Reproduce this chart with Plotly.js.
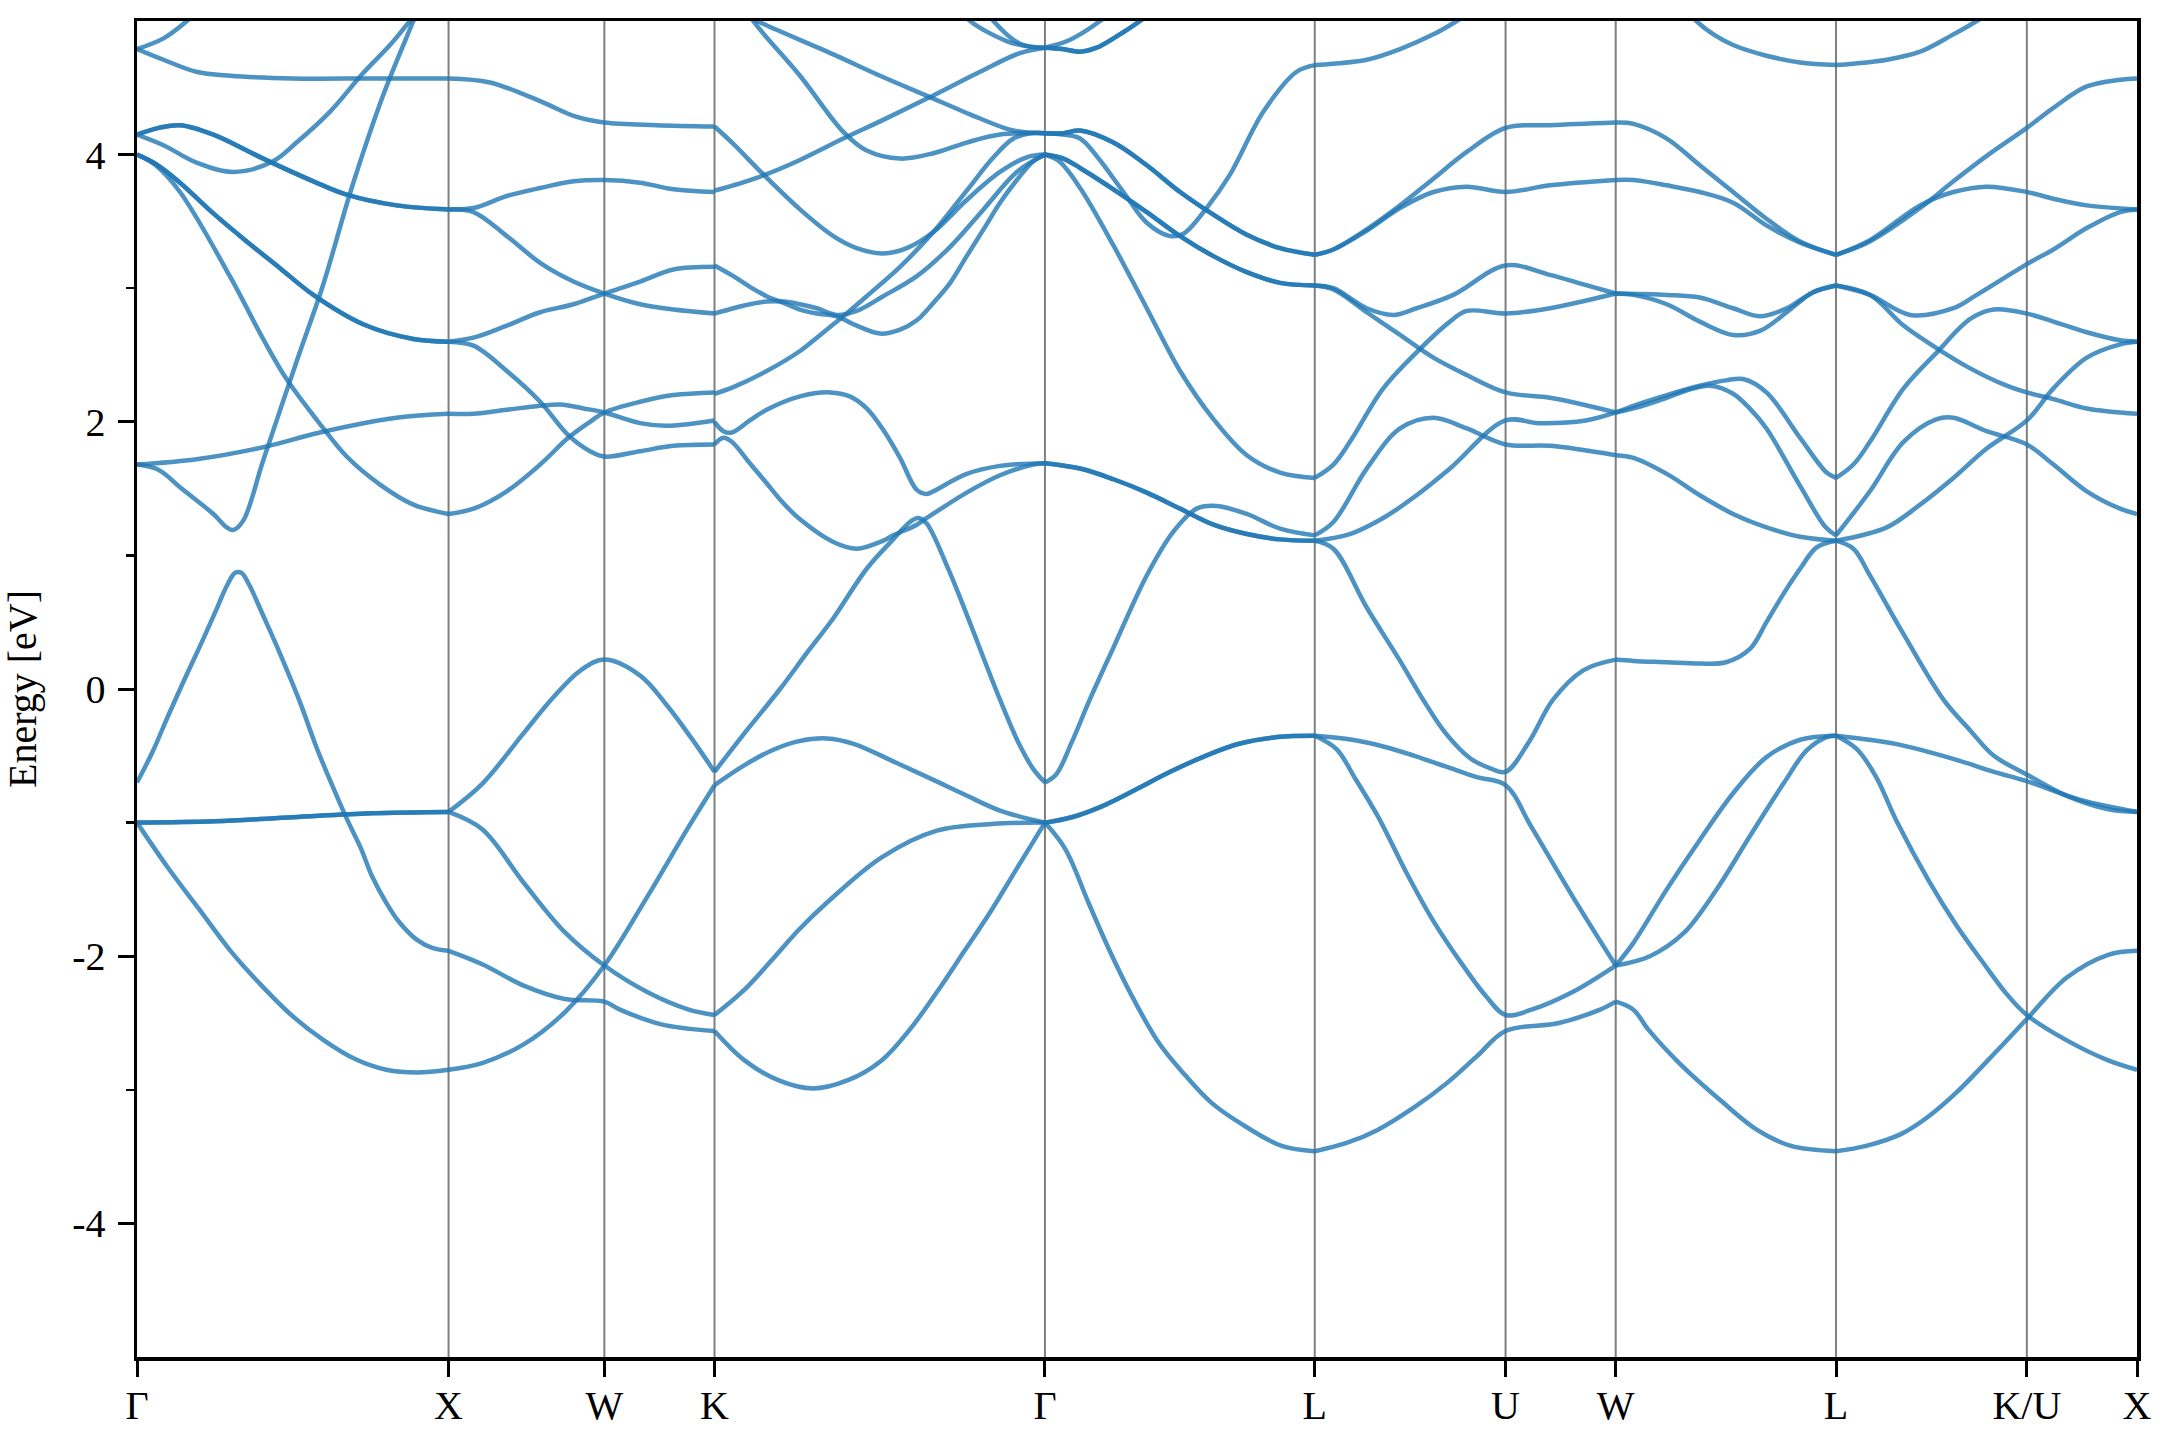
<!DOCTYPE html>
<html>
<head>
<meta charset="utf-8">
<script src="https://cdn.plot.ly/plotly-3.0.1.min.js"></script>
<style>html,body{margin:0;padding:0;background:#fff;}#chart{width:2160px;height:1440px;}</style>
</head>
<body>
<div id="chart"></div>
<script>
// High-symmetry path (k in units of 2π/a) and labels
const kTicks = [0, 1, 1.5, 1.8536, 2.9142, 3.7802, 4.3926, 4.7462, 5.4533, 6.0657, 6.4193];
const kLabels = ['Γ', 'X', 'W', 'K', 'Γ', 'L', 'U', 'W', 'L', 'K/U', 'X'];
const yTickVals = [-4, -2, 0, 2, 4];
const yTickText = ['-4', '-2', '0', '2', '4'];
const yMinorVals = [-3, -1, 1, 3];

// Band curves: [k, energy eV]
// Γ → X
const gx_a = [[0,-1.0],[0.1,-1.34],[0.2,-1.65],[0.3,-1.96],[0.4,-2.22],[0.5,-2.45],[0.6,-2.63],[0.7,-2.77],[0.8,-2.85],[0.9,-2.87],[1,-2.85]];
const gx_b = [[0,-1.0],[0.25,-0.99],[0.5,-0.96],[0.75,-0.93],[1,-0.92]];
const gx_c = [[0,-0.7],[0.05,-0.47],[0.1,-0.2],[0.15,0.06],[0.2,0.31],[0.25,0.57],[0.29,0.78],[0.315,0.87],[0.335,0.87],[0.36,0.78],[0.405,0.55],[0.46,0.26],[0.52,-0.08],[0.58,-0.46],[0.63,-0.74],[0.675,-0.98],[0.72,-1.2],[0.754,-1.4],[0.8,-1.6],[0.84,-1.74],[0.9,-1.88],[0.95,-1.94],[1,-1.96]];
const gx_1 = [[0,4.79],[0.085,4.87],[0.16,5.0],[0.25,5.2]];
const gx_2 = [[0,4.79],[0.085,4.71],[0.19,4.62],[0.3,4.59],[0.5,4.57],[0.75,4.57],[1,4.57]];
const gx_3 = [[0,4.15],[0.07,4.2],[0.138,4.22],[0.245,4.15],[0.405,3.97],[0.566,3.8],[0.673,3.7],[0.833,3.62],[1,3.59]];
const gx_4 = [[0,4.15],[0.085,4.07],[0.191,3.94],[0.309,3.87],[0.437,3.95],[0.512,4.09],[0.619,4.32],[0.726,4.61],[0.812,4.82],[0.876,5.0],[0.95,5.2]];
const gx_5 = [[0,4.0],[0.06,3.93],[0.138,3.79],[0.245,3.56],[0.352,3.35],[0.459,3.15],[0.566,2.95],[0.726,2.73],[0.887,2.62],[1,2.6]];
const gx_6 = [[0,4.0],[0.06,3.92],[0.138,3.72],[0.298,3.09],[0.405,2.62],[0.48,2.32],[0.592,1.97],[0.673,1.74],[0.78,1.53],[0.887,1.38],[1,1.31]];
const gx_7 = [[0,1.68],[0.191,1.72],[0.405,1.81],[0.587,1.92],[0.833,2.03],[1,2.06]];
const gx_8 = [[0,1.68],[0.07,1.64],[0.138,1.51],[0.245,1.31],[0.288,1.21],[0.309,1.19],[0.341,1.26],[0.405,1.71],[0.512,2.45],[0.598,3.03],[0.689,3.75],[0.791,4.45],[0.887,5.0],[0.95,5.35]];
// X → W → K
const xk_a = [[1,4.57],[1.133,4.54],[1.294,4.4],[1.401,4.29],[1.5,4.24],[1.668,4.22],[1.8536,4.21]];
const xk_b = [[1,3.59],[1.08,3.6],[1.187,3.69],[1.294,3.75],[1.401,3.8],[1.5,3.81],[1.615,3.79],[1.722,3.74],[1.8536,3.72]];
const xk_c = [[1,3.59],[1.08,3.57],[1.187,3.39],[1.294,3.19],[1.401,3.05],[1.5,2.96],[1.615,2.88],[1.722,2.84],[1.8536,2.81]];
const xk_d = [[1,2.6],[1.08,2.63],[1.187,2.72],[1.294,2.82],[1.401,2.88],[1.5,2.96],[1.615,3.05],[1.722,3.14],[1.8536,3.16]];
const xk_e = [[1,2.6],[1.08,2.57],[1.187,2.38],[1.294,2.15],[1.384,1.9],[1.454,1.78],[1.5,1.74],[1.615,1.78],[1.722,1.82],[1.8536,1.83]];
const xk_f = [[1,2.06],[1.08,2.06],[1.187,2.09],[1.294,2.12],[1.358,2.13],[1.433,2.1],[1.5,2.07],[1.615,1.99],[1.7,1.97],[1.8536,2.01]];
const xk_g = [[1,1.31],[1.08,1.35],[1.187,1.48],[1.294,1.68],[1.384,1.88],[1.454,2.0],[1.5,2.07],[1.615,2.15],[1.722,2.2],[1.8536,2.22]];
const xk_h = [[1,-0.92],[1.108,-0.71],[1.241,-0.33],[1.337,-0.06],[1.424,0.14],[1.5,0.22],[1.615,0.1],[1.7,-0.12],[1.78,-0.37],[1.8536,-0.62]];
const xk_i = [[1,-0.92],[1.108,-1.05],[1.241,-1.45],[1.373,-1.82],[1.5,-2.07],[1.639,-2.27],[1.771,-2.4],[1.8536,-2.44]];
const xk_j = [[1,-2.85],[1.108,-2.8],[1.241,-2.66],[1.373,-2.42],[1.5,-2.07],[1.639,-1.55],[1.771,-1.03],[1.8536,-0.72]];
const xk_k = [[1,-1.96],[1.108,-2.06],[1.241,-2.22],[1.373,-2.32],[1.5,-2.34],[1.55,-2.4],[1.683,-2.51],[1.8536,-2.56]];
// K → Γ
const kg_1 = [[1.8536,4.21],[1.914,4.08],[1.994,3.89],[2.128,3.59],[2.235,3.39],[2.31,3.3],[2.395,3.26],[2.471,3.3],[2.556,3.42],[2.663,3.66],[2.77,3.87],[2.856,3.98],[2.9142,4.0]];
const kg_2 = [[1.8536,3.73],[1.994,3.83],[2.128,3.96],[2.267,4.12],[2.395,4.26],[2.545,4.43],[2.706,4.62],[2.834,4.76],[2.9142,4.8]];
const kg_3 = [[1.95,5.05],[1.99,5.0],[2.235,4.75],[2.385,4.59],[2.545,4.43],[2.706,4.27],[2.813,4.18],[2.9142,4.16]];
const kg_4 = [[1.94,5.15],[1.978,5.0],[2.128,4.59],[2.267,4.17],[2.342,4.03],[2.449,3.97],[2.556,4.01],[2.663,4.09],[2.77,4.15],[2.9142,4.16]];
const kg_5 = [[2.63,5.12],[2.674,5.0],[2.791,4.85],[2.86,4.81],[2.9142,4.8]];
const kg_6 = [[2.72,5.1],[2.749,5.0],[2.834,4.83],[2.9142,4.8]];
const kg_7 = [[1.8536,3.17],[1.914,3.09],[1.967,3.01],[2.021,2.94],[2.075,2.89],[2.128,2.84],[2.182,2.81],[2.245,2.79],[2.31,2.72],[2.385,2.66],[2.449,2.69],[2.503,2.76],[2.556,2.89],[2.61,3.04],[2.663,3.24],[2.717,3.44],[2.77,3.64],[2.824,3.81],[2.877,3.95],[2.9142,4.0]];
const kg_8 = [[1.8536,2.81],[1.914,2.85],[1.967,2.88],[2.021,2.9],[2.075,2.9],[2.128,2.88],[2.182,2.85],[2.245,2.8],[2.31,2.83],[2.395,2.94],[2.503,3.09],[2.61,3.31],[2.717,3.59],[2.824,3.87],[2.9142,4.0]];
const kg_9 = [[1.8536,2.21],[1.914,2.26],[2.021,2.38],[2.128,2.53],[2.182,2.63],[2.235,2.73],[2.267,2.79],[2.342,2.94],[2.449,3.16],[2.556,3.42],[2.663,3.73],[2.749,3.98],[2.813,4.12],[2.87,4.16],[2.9142,4.16]];
const kg_10 = [[1.8536,2.0],[1.882,1.93],[1.909,1.92],[1.967,2.01],[2.021,2.09],[2.128,2.19],[2.224,2.22],[2.288,2.19],[2.342,2.1],[2.395,1.94],[2.449,1.73],[2.503,1.49],[2.535,1.46],[2.556,1.48],[2.663,1.61],[2.77,1.67],[2.9142,1.69]];
const kg_11 = [[1.8536,1.83],[1.882,1.88],[1.909,1.85],[1.967,1.69],[2.021,1.54],[2.075,1.39],[2.128,1.27],[2.235,1.1],[2.31,1.05],[2.395,1.11],[2.427,1.15],[2.503,1.23],[2.535,1.28],[2.663,1.47],[2.77,1.6],[2.877,1.68],[2.9142,1.69]];
const kg_12 = [[1.8536,-0.62],[1.95,-0.33],[2.064,0.0],[2.15,0.27],[2.235,0.53],[2.342,0.9],[2.427,1.12],[2.481,1.25],[2.508,1.28],[2.534,1.24],[2.6,0.92],[2.656,0.6],[2.77,-0.08],[2.833,-0.42],[2.877,-0.6],[2.9142,-0.7]];
const kg_13 = [[1.8536,-0.72],[1.95,-0.57],[2.037,-0.46],[2.125,-0.39],[2.214,-0.37],[2.3,-0.41],[2.435,-0.55],[2.556,-0.68],[2.656,-0.79],[2.77,-0.91],[2.9142,-1.0]];
const kg_14 = [[1.8536,-2.44],[1.95,-2.25],[2.037,-2.03],[2.125,-1.8],[2.214,-1.6],[2.39,-1.26],[2.567,-1.06],[2.744,-1.01],[2.9142,-1.0]];
const kg_15 = [[1.8536,-2.56],[1.95,-2.78],[2.06,-2.93],[2.169,-2.99],[2.28,-2.93],[2.39,-2.78],[2.48,-2.55],[2.567,-2.27],[2.656,-1.96],[2.744,-1.65],[2.83,-1.32],[2.9142,-1.0]];
// Γ → L
const gl_1 = [[2.9142,4.8],[2.995,4.86],[3.091,5.0],[3.15,5.12]];
const gl_2 = [[2.9142,4.8],[2.97,4.79],[3.027,4.77],[3.08,4.8],[3.134,4.87],[3.219,5.0],[3.27,5.1]];
const gl_3 = [[2.9142,4.16],[2.973,4.16],[3.027,4.18],[3.134,4.09],[3.241,3.92],[3.348,3.72],[3.455,3.55],[3.562,3.4],[3.669,3.3],[3.7802,3.25]];
const gl_4 = [[2.9142,4.16],[2.973,4.15],[3.027,4.12],[3.08,3.99],[3.166,3.72],[3.241,3.49],[3.316,3.39],[3.36,3.41],[3.433,3.6],[3.508,3.85],[3.615,4.32],[3.722,4.62],[3.7802,4.67]];
const gl_5 = [[2.9142,4.0],[2.973,3.97],[3.027,3.9],[3.134,3.74],[3.241,3.57],[3.348,3.39],[3.455,3.24],[3.562,3.12],[3.669,3.04],[3.7802,3.02]];
const gl_6 = [[2.9142,4.0],[2.96,3.95],[3.027,3.75],[3.134,3.32],[3.241,2.85],[3.348,2.38],[3.455,2.02],[3.562,1.75],[3.669,1.62],[3.7802,1.58]];
const gl_7 = [[2.9142,1.69],[3.027,1.65],[3.134,1.57],[3.241,1.47],[3.348,1.35],[3.455,1.23],[3.562,1.16],[3.669,1.12],[3.7802,1.11]];
const gl_8 = [[2.9142,-0.7],[2.95,-0.64],[3.0,-0.4],[3.058,-0.08],[3.134,0.31],[3.241,0.85],[3.327,1.18],[3.401,1.35],[3.465,1.37],[3.562,1.31],[3.669,1.2],[3.7802,1.15]];
const gl_9 = [[2.9142,-1.0],[3.0,-0.96],[3.095,-0.88],[3.2,-0.76],[3.316,-0.62],[3.43,-0.5],[3.537,-0.41],[3.66,-0.36],[3.7802,-0.35]];
const gl_10 = [[2.9142,-1.0],[2.98,-1.2],[3.054,-1.6],[3.12,-1.95],[3.187,-2.27],[3.28,-2.65],[3.364,-2.89],[3.45,-3.1],[3.541,-3.25],[3.674,-3.42],[3.7802,-3.46]];
// L → U → W
const lu_1 = [[3.7802,4.67],[3.84,4.68],[3.947,4.71],[4.054,4.79],[4.161,4.9],[4.236,5.0],[4.3,5.1]];
const lu_2 = [[3.7802,3.25],[3.84,3.29],[3.947,3.44],[4.054,3.62],[4.161,3.82],[4.268,4.02],[4.3926,4.2],[4.535,4.22],[4.7462,4.24]];
const lu_3 = [[3.7802,3.25],[3.84,3.29],[3.947,3.43],[4.054,3.6],[4.161,3.72],[4.268,3.76],[4.3926,3.72],[4.535,3.77],[4.7462,3.81]];
const lu_4 = [[3.7802,3.02],[3.84,3.0],[3.947,2.85],[4.032,2.8],[4.107,2.85],[4.225,2.95],[4.3926,3.17],[4.535,3.1],[4.64,3.03],[4.7462,2.96]];
const lu_5 = [[3.7802,3.02],[3.84,2.99],[3.947,2.82],[4.054,2.65],[4.161,2.48],[4.268,2.35],[4.3926,2.22],[4.535,2.18],[4.64,2.13],[4.7462,2.07]];
const lu_6 = [[3.7802,1.58],[3.84,1.68],[3.893,1.85],[4.0,2.25],[4.107,2.52],[4.214,2.75],[4.268,2.83],[4.3926,2.81],[4.535,2.85],[4.7462,2.96]];
const lu_7 = [[3.7802,1.15],[3.84,1.25],[3.947,1.65],[4.054,1.95],[4.161,2.03],[4.268,1.95],[4.3926,1.83],[4.535,1.82],[4.7462,1.75]];
const lu_8 = [[3.7802,1.11],[3.893,1.16],[4.0,1.28],[4.107,1.45],[4.214,1.65],[4.3926,2.01],[4.5,1.99],[4.65,2.01],[4.7462,2.07]];
const lu_9 = [[3.7802,1.11],[3.84,1.05],[3.947,0.61],[4.054,0.21],[4.128,-0.08],[4.2,-0.33],[4.28,-0.52],[4.34,-0.59],[4.3926,-0.62],[4.4666,-0.4],[4.545,-0.08],[4.642,0.14],[4.7462,0.22]];
const lu_10 = [[3.7802,-0.35],[3.9,-0.38],[4.0,-0.43],[4.1,-0.5],[4.2,-0.58],[4.3,-0.66],[4.3926,-0.72],[4.475,-1.03],[4.607,-1.55],[4.7462,-2.07]];
const lu_11 = [[3.7802,-0.35],[3.85,-0.45],[3.91,-0.67],[3.982,-0.95],[4.08,-1.4],[4.159,-1.73],[4.25,-2.05],[4.33,-2.3],[4.3926,-2.44],[4.476,-2.4],[4.606,-2.27],[4.7462,-2.07]];
const lu_12 = [[3.7802,-3.46],[3.88,-3.4],[3.982,-3.3],[4.1,-3.13],[4.204,-2.95],[4.3,-2.75],[4.3926,-2.56],[4.564,-2.5],[4.696,-2.4],[4.7462,-2.34]];
// W → L
const wl_1 = [[4.95,5.15],[5.005,5.0],[5.06,4.9],[5.123,4.82],[5.23,4.74],[5.338,4.69],[5.4533,4.67]];
const wl_2 = [[4.7462,4.24],[4.803,4.23],[4.91,4.12],[5.016,3.92],[5.123,3.72],[5.23,3.52],[5.338,3.35],[5.4533,3.25]];
const wl_3 = [[4.7462,3.81],[4.803,3.81],[4.91,3.77],[5.016,3.72],[5.123,3.64],[5.23,3.47],[5.338,3.34],[5.4533,3.25]];
const wl_4 = [[4.7462,2.96],[4.91,2.95],[5.016,2.93],[5.123,2.85],[5.209,2.79],[5.295,2.85],[5.38,2.97],[5.4533,3.02]];
const wl_5 = [[4.7462,2.96],[4.803,2.95],[4.91,2.88],[5.016,2.75],[5.123,2.65],[5.209,2.68],[5.295,2.82],[5.38,2.97],[5.4533,3.02]];
const wl_6 = [[4.7462,2.07],[4.803,2.1],[4.91,2.18],[4.98,2.24],[5.049,2.27],[5.123,2.21],[5.176,2.1],[5.23,1.95],[5.338,1.52],[5.42,1.21],[5.4533,1.15]];
const wl_7 = [[4.7462,2.07],[4.803,2.12],[4.91,2.2],[5.016,2.27],[5.1,2.31],[5.155,2.32],[5.23,2.22],[5.338,1.88],[5.423,1.62],[5.4533,1.58]];
const wl_8 = [[4.7462,1.75],[4.803,1.73],[4.91,1.61],[5.016,1.45],[5.123,1.31],[5.23,1.21],[5.338,1.14],[5.4533,1.11]];
const wl_9 = [[4.7462,0.22],[4.803,0.21],[4.91,0.2],[5.016,0.19],[5.1,0.2],[5.177,0.3],[5.23,0.5],[5.284,0.71],[5.338,0.9],[5.391,1.06],[5.4533,1.11]];
const wl_10 = [[4.7462,-2.07],[4.803,-1.9],[4.91,-1.5],[5.016,-1.13],[5.123,-0.78],[5.23,-0.51],[5.338,-0.38],[5.4533,-0.35]];
const wl_11 = [[4.7462,-2.07],[4.856,-2.0],[4.963,-1.83],[5.07,-1.5],[5.177,-1.1],[5.284,-0.71],[5.359,-0.46],[5.423,-0.36],[5.4533,-0.35]];
const wl_12 = [[4.7462,-2.34],[4.803,-2.4],[4.851,-2.55],[4.95,-2.8],[5.088,-3.09],[5.2,-3.3],[5.309,-3.42],[5.4533,-3.46]];
// L → K/U → X
const lk_1 = [[5.4533,4.67],[5.509,4.68],[5.616,4.71],[5.723,4.77],[5.83,4.9],[5.905,5.0],[5.97,5.1]];
const lk_2 = [[5.4533,3.25],[5.562,3.35],[5.723,3.6],[5.83,3.8],[5.937,3.99],[6.0657,4.2],[6.151,4.35],[6.258,4.51],[6.365,4.56],[6.4193,4.57]];
const lk_3 = [[5.4533,3.25],[5.562,3.36],[5.723,3.62],[5.83,3.72],[5.937,3.76],[6.0657,3.72],[6.151,3.67],[6.258,3.62],[6.4193,3.59]];
const lk_4 = [[5.4533,3.02],[5.562,2.95],[5.691,2.8],[5.83,2.85],[5.905,2.95],[6.0657,3.18],[6.151,3.29],[6.258,3.45],[6.365,3.57],[6.4193,3.59]];
const lk_5 = [[5.4533,3.02],[5.562,2.95],[5.67,2.72],[5.777,2.55],[5.884,2.4],[5.991,2.28],[6.0657,2.22],[6.151,2.17],[6.258,2.1],[6.4193,2.06]];
const lk_6 = [[5.4533,1.58],[5.509,1.68],[5.562,1.85],[5.67,2.25],[5.777,2.52],[5.884,2.77],[5.959,2.84],[6.0657,2.81],[6.151,2.75],[6.258,2.67],[6.365,2.61],[6.4193,2.6]];
const lk_7 = [[5.4533,1.15],[5.562,1.48],[5.67,1.85],[5.777,2.02],[5.83,2.03],[5.937,1.93],[6.0657,1.83],[6.151,1.68],[6.258,1.48],[6.365,1.35],[6.4193,1.31]];
const lk_8 = [[5.4533,1.11],[5.616,1.21],[5.723,1.38],[5.83,1.58],[5.937,1.8],[6.0657,2.01],[6.151,2.25],[6.258,2.48],[6.365,2.58],[6.4193,2.6]];
const lk_9 = [[5.4533,1.11],[5.509,1.05],[5.562,0.85],[5.67,0.41],[5.798,-0.08],[5.884,-0.31],[5.96,-0.5],[6.0657,-0.64],[6.194,-0.8],[6.327,-0.9],[6.4193,-0.92]];
const lk_10 = [[5.4533,-0.35],[5.56,-0.38],[5.663,-0.42],[5.84,-0.53],[5.96,-0.62],[6.0657,-0.69],[6.238,-0.83],[6.4193,-0.92]];
const lk_11 = [[5.4533,-0.35],[5.52,-0.45],[5.58,-0.65],[5.65,-1.0],[5.752,-1.44],[5.84,-1.77],[5.929,-2.06],[6.0,-2.28],[6.0657,-2.44],[6.194,-2.63],[6.327,-2.78],[6.4193,-2.85]];
const lk_12 = [[5.4533,-3.46],[5.55,-3.42],[5.663,-3.33],[5.75,-3.2],[5.84,-3.02],[5.973,-2.7],[6.0657,-2.47],[6.194,-2.16],[6.327,-1.99],[6.4193,-1.96]];

// Degenerate (doubly occupied) branches appear twice, as in the original
const curves = [
  gx_a, gx_b, gx_b, gx_c, gx_1, gx_2, gx_3, gx_3, gx_4, gx_5, gx_5, gx_6, gx_7, gx_8,
  xk_a, xk_b, xk_c, xk_d, xk_e, xk_f, xk_g, xk_h, xk_i, xk_j, xk_k,
  kg_1, kg_2, kg_3, kg_4, kg_5, kg_6, kg_7, kg_8, kg_9, kg_10, kg_11, kg_12, kg_13, kg_14, kg_15,
  gl_1, gl_2, gl_2, gl_3, gl_3, gl_4, gl_5, gl_5, gl_6, gl_7, gl_7, gl_8, gl_9, gl_9, gl_10,
  lu_1, lu_2, lu_3, lu_4, lu_5, lu_6, lu_7, lu_8, lu_9, lu_10, lu_11, lu_12,
  wl_1, wl_2, wl_3, wl_4, wl_5, wl_6, wl_7, wl_8, wl_9, wl_10, wl_11, wl_12,
  lk_1, lk_2, lk_3, lk_4, lk_5, lk_6, lk_7, lk_8, lk_9, lk_10, lk_11, lk_12
];

const FONT = '"Liberation Serif", "Times New Roman", serif';
const traces = curves.map(c => ({
  type: 'scatter', mode: 'lines',
  x: c.map(p => p[0]), y: c.map(p => p[1]),
  line: {color: 'rgba(31,119,180,0.8)', width: 4.5, shape: 'spline', smoothing: 1},
  hoverinfo: 'skip', showlegend: false
}));

const shapes = kTicks.slice(1, -1).map(k => ({
  type: 'line', xref: 'x', yref: 'paper', x0: k, x1: k, y0: 0, y1: 1,
  line: {color: 'rgba(0,0,0,0.5)', width: 2}, layer: 'below'
}));

const layout = {
  width: 2160, height: 1440,
  margin: {l: 137, r: 23, t: 21, b: 83, pad: 0},
  paper_bgcolor: '#ffffff', plot_bgcolor: '#ffffff',
  showlegend: false,
  shapes: shapes,
  xaxis: {
    range: [kTicks[0], kTicks[kTicks.length - 1]],
    tickmode: 'array', tickvals: kTicks, ticktext: kLabels,
    ticks: 'outside', ticklen: 16, tickwidth: 3, tickcolor: '#000',
    ticklabelstandoff: -6,
    showline: true, linecolor: '#000', linewidth: 3.5, mirror: true,
    showgrid: false, zeroline: false,
    tickfont: {family: FONT, size: 40, color: '#000'}
  },
  yaxis: {
    range: [-5, 5],
    tickmode: 'array', tickvals: yTickVals, ticktext: yTickText,
    ticks: 'outside', ticklen: 16, tickwidth: 3, tickcolor: '#000',
    ticklabelstandoff: 4,
    minor: {tickmode: 'array', tickvals: yMinorVals, ticks: 'outside', ticklen: 8, tickwidth: 2.5, tickcolor: '#000', showgrid: false},
    showline: true, linecolor: '#000', linewidth: 3.5, mirror: true,
    showgrid: false, zeroline: false,
    tickfont: {family: FONT, size: 40, color: '#000'},
    title: {text: 'Energy [eV]', font: {family: FONT, size: 40, color: '#000'}, standoff: 24}
  }
};

Plotly.newPlot('chart', traces, layout, {staticPlot: true, displayModeBar: false});
</script>
</body>
</html>
